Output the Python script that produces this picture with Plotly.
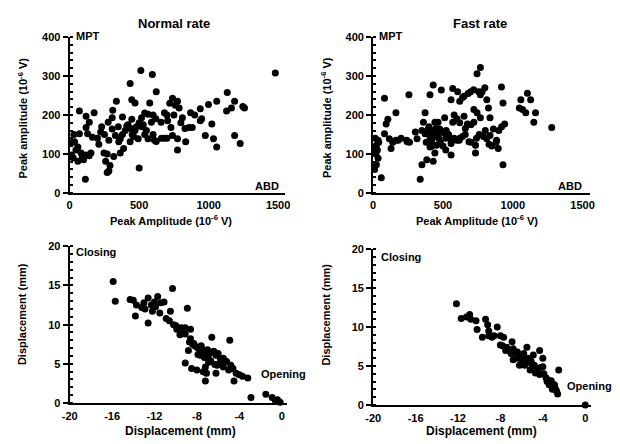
import plotly.graph_objects as go

# ---------------- data ----------------
normal_amp_abd = [1480, 512, 595, 623, 435, 336, 447, 470, 70, 176, 118, 310, 306, 277, 141, 118, 223, 129, 164, 70,
                  35, 59, 82, 118, 153, 59, 12, 113, 282, 270, 247, 259, 317, 353, 388, 364, 329, 282, 306, 364,
                  500, 411, 447, 470, 435, 493, 517, 564, 576, 588, 552, 564, 623, 658, 682, 740, 776, 788, 705, 729,
                  740, 776, 776, 835, 811, 858, 882, 870, 940, 940, 999, 976, 1023, 1035, 1058, 1058, 1129, 1164, 1187, 1134,
                  1187, 1227, 1246, 1258, 200, 210, 230, 250, 380, 400, 420, 450, 480, 530, 540, 600, 620, 660, 700, 720,
                  760, 800, 830, 900, 950, 20, 30, 45, 90, 100, 140, 25, 270, 290, 350, 380, 440, 460, 500, 520,
                  540, 600, 610, 680, 700, 750]
normal_amp_mpt = [308, 314, 304, 260, 281, 235, 239, 231, 210, 206, 197, 212, 193, 181, 181, 168, 156, 152, 143, 152,
                  131, 118, 102, 97, 102, 81, 97, 35, 56, 52, 102, 81, 93, 131, 114, 139, 147, 135, 164, 102,
                  64, 172, 189, 160, 131, 139, 193, 202, 231, 181, 160, 139, 132, 181, 206, 243, 235, 218, 185, 168,
                  147, 139, 110, 131, 193, 168, 168, 206, 216, 185, 227, 147, 177, 139, 118, 235, 210, 218, 235, 258,
                  147, 127, 222, 218, 140, 125, 170, 150, 150, 160, 175, 150, 170, 175, 150, 200, 190, 140, 200, 230,
                  225, 180, 165, 200, 190, 130, 150, 110, 90, 85, 95, 90, 100, 70, 170, 195, 165, 145, 180, 170,
                  205, 150, 135, 140, 140, 200]

fast_amp_abd = [768, 744, 256, 430, 488, 407, 570, 605, 558, 651, 698, 756, 768, 814, 919, 930, 826, 721, 744, 837,
                768, 651, 570, 675, 721, 803, 861, 942, 884, 896, 837, 814, 930, 733, 733, 686, 616, 558, 558, 523,
                512, 442, 372, 360, 349, 302, 314, 244, 349, 384, 430, 442, 337, 419, 442, 407, 454, 477, 465, 372,
                395, 105, 93, 81, 163, 163, 116, 128, 81, 35, 23, 35, 58, 23, 12, 1070, 1093, 1105, 1128, 1058,
                1163, 1151, 1279, 1047, 400, 410, 420, 430, 440, 400, 380, 420, 450, 460, 470, 480, 500, 520, 540, 560,
                580, 600, 620, 640, 660, 700, 740, 760, 790, 830, 850, 880, 900, 920, 620, 640, 680, 720, 780, 800,
                240, 260, 200, 180, 140, 40, 30, 20, 15, 10, 600, 580, 620, 660, 700, 500, 520]
fast_amp_mpt = [322, 306, 252, 277, 264, 252, 268, 260, 239, 248, 260, 260, 252, 239, 272, 231, 218, 214, 206, 193,
                193, 197, 181, 177, 181, 160, 164, 177, 135, 114, 147, 139, 72, 102, 122, 131, 135, 127, 97, 160,
                193, 181, 206, 181, 160, 156, 139, 131, 72, 85, 81, 102, 35, 131, 147, 118, 122, 164, 181, 152,
                164, 189, 177, 152, 206, 135, 139, 114, 243, 135, 122, 89, 39, 72, 114, 214, 206, 256, 239, 239,
                206, 181, 168, 218, 150, 140, 160, 155, 145, 170, 130, 120, 165, 150, 140, 130, 155, 140, 150, 135,
                140, 135, 140, 145, 150, 130, 140, 150, 145, 125, 120, 130, 160, 170, 235, 245, 255, 265, 260, 270,
                135, 130, 140, 135, 130, 130, 110, 100, 140, 60, 190, 200, 180, 165, 175, 120, 110]

normal_disp_open = [-15.9, -15.7, -14.3, -14.0, -13.7, -13.2, -13.8, -12.6, -12.3, -11.7, -11.4, -11.1, -12.2, -11.5, -12.6, -10.3,
                    -10.5, -10.6, -10.2, -9.9, -9.5, -9.1, -8.9, -8.6, -9.1, -8.6, -8.3, -8.8, -8.0, -7.5, -7.4, -6.9,
                    -6.6, -6.5, -6.2, -5.8, -5.5, -6.8, -6.3, -7.2, -7.4, -8.0, -9.1, -8.5, -7.2, -7.1, -6.2, -5.5,
                    -4.9, -4.6, -4.3, -4.0, -3.7, -3.2, -4.5, -2.9, -1.5, -0.9, -0.6, -0.15, -13.0, -12.9, -12.0, -11.9,
                    -10.9, -10.0, -9.6, -9.3, -8.7, -8.2, -7.8, -7.7, -7.0, -6.7, -6.4, -6.0, -5.9, -5.2, -7.6, -7.3,
                    -6.9, -6.1, -5.6, -8.4, -7.9, -5.0, -4.8, -0.4]
normal_disp_close = [15.5, 13.0, 13.2, 13.1, 12.5, 12.2, 11.1, 13.4, 12.5, 13.6, 12.8, 12.9, 11.7, 11.5, 10.2, 14.6,
                     11.7, 10.5, 10.0, 9.4, 9.6, 9.6, 12.1, 9.4, 8.8, 8.2, 7.6, 6.7, 7.1, 6.9, 6.5, 6.1,
                     8.4, 6.5, 6.1, 5.7, 5.7, 5.3, 4.9, 4.6, 4.0, 4.2, 5.1, 4.4, 2.8, 3.8, 3.8, 4.6,
                     8.0, 4.4, 3.8, 3.6, 3.4, 3.2, 2.8, 0.7, 1.1, 0.7, 0.3, 0.1, 12.8, 12.0, 12.9, 12.3,
                     10.8, 9.9, 8.7, 9.2, 7.8, 7.3, 6.9, 6.1, 6.8, 5.4, 6.6, 6.3, 5.0, 5.3, 7.3, 5.8,
                     5.2, 4.8, 4.9, 7.5, 6.2, 4.2, 4.8, 0.4]

fast_disp_open = [-12.15, -11.7, -11.2, -10.9, -10.8, -10.3, -10.2, -9.4, -9.2, -9.1, -8.3, -9.7, -9.1, -8.6, -8.0, -7.7,
                  -8.0, -7.4, -7.2, -6.9, -6.8, -6.6, -6.2, -5.8, -5.5, -5.4, -5.1, -4.9, -4.3, -4.0, -4.0, -4.6,
                  -4.3, -3.7, -3.2, -2.9, -2.8, -2.5, -2.6, -3.1, -3.4, -3.6, 0.0, -6.2, -6.8, -5.7, -5.2, -4.8,
                  -7.5, -7.0, -6.5, -6.0, -5.6, -5.0, -4.5, -3.9, -3.5, -3.0, -2.7, -7.8, -6.4, -5.9, -5.3, -4.2,
                  -3.3, -2.9, -8.8, -6.1, -4.7]
fast_disp_close = [13.0, 11.1, 11.3, 11.6, 11.0, 10.8, 9.7, 11.0, 10.3, 9.5, 10.0, 8.7, 8.9, 8.9, 8.9, 8.7,
                   7.7, 7.4, 7.0, 8.1, 7.2, 6.8, 6.2, 6.6, 7.4, 6.0, 5.6, 6.4, 7.0, 6.0, 4.9, 4.3,
                   3.9, 3.5, 3.1, 2.6, 2.0, 4.5, 1.4, 2.0, 2.6, 3.0, 0.0, 5.1, 5.8, 5.1, 4.5, 5.1,
                   7.0, 6.6, 6.0, 5.5, 5.4, 5.0, 4.6, 4.0, 3.2, 2.4, 1.8, 7.6, 6.8, 6.2, 5.8, 4.8,
                   2.8, 2.2, 8.7, 5.2, 4.1]

amp_xticks = [0, 500, 1000, 1500]
amp_yticks = [0, 100, 200, 300, 400]
disp_xticks = [-20, -16, -12, -8, -4, 0]
disp_xticklabels = ["-20", "-16", "-12", "-8", "-4", "0"]
disp_yticks = [0, 5, 10, 15, 20]

# ---------------- figure ----------------
W, H = 620, 444
FONT = "Liberation Sans, Arial, sans-serif"


def fx(x):
    return x / W


def fy(y):
    return 1 - y / H


marker = dict(color="black", size=7, line=dict(width=0))
fig = go.Figure()
fig.add_trace(go.Scatter(x=normal_amp_abd, y=normal_amp_mpt, mode="markers", marker=marker,
                         xaxis="x", yaxis="y", cliponaxis=False))
fig.add_trace(go.Scatter(x=fast_amp_abd, y=fast_amp_mpt, mode="markers", marker=marker,
                         xaxis="x2", yaxis="y2", cliponaxis=False))
fig.add_trace(go.Scatter(x=normal_disp_open, y=normal_disp_close, mode="markers", marker=marker,
                         xaxis="x3", yaxis="y3", cliponaxis=False))
fig.add_trace(go.Scatter(x=fast_disp_open, y=fast_disp_close, mode="markers", marker=marker,
                         xaxis="x4", yaxis="y4", cliponaxis=False))

tickfont = dict(family=FONT, size=11, color="black", weight="bold")


def xax(dom, rng, vals, texts, anchor, tl):
    return dict(domain=dom, range=rng, tickvals=vals, ticktext=texts, anchor=anchor,
                showgrid=False, zeroline=False, showline=True, linewidth=2, linecolor="black",
                ticks="outside", ticklen=tl, tickcolor="rgba(0,0,0,0)", tickfont=tickfont)


def yax(dom, rng, vals, minor_dt, anchor):
    return dict(domain=dom, range=rng, tickvals=vals, anchor=anchor,
                showgrid=False, zeroline=False, showline=True, linewidth=2, linecolor="black",
                ticks="outside", ticklen=5, tickwidth=2, tickcolor="black", tickfont=tickfont,
                minor=dict(dtick=minor_dt, ticks="inside", ticklen=3, tickwidth=2, tickcolor="black",
                           showgrid=False))


fig.update_layout(
    width=W, height=H, margin=dict(l=0, r=0, t=0, b=0),
    paper_bgcolor="white", plot_bgcolor="white", showlegend=False,
    xaxis=xax([fx(63), fx(283)], [0, 1550], amp_xticks, [str(v) for v in amp_xticks], "y", 1),
    yaxis=yax([fy(192), fy(32)], [0, 400], amp_yticks, 20, "x"),
    xaxis2=xax([fx(373), fx(594)], [0, 1550], amp_xticks, [str(v) for v in amp_xticks], "y2", 1),
    yaxis2=yax([fy(192), fy(32)], [0, 400], amp_yticks, 20, "x2"),
    xaxis3=xax([fx(63), fx(285)], [-20, 0.5], disp_xticks, disp_xticklabels, "y3", 2),
    yaxis3=yax([fy(408), fy(247)], [0, 20], disp_yticks, 1, "x3"),
    xaxis4=xax([fx(373), fx(595)], [-20, 0.5], disp_xticks, disp_xticklabels, "y4", 2),
    yaxis4=yax([fy(410), fy(250)], [0, 20], disp_yticks, 1, "x4"),
)


def note(text, x, y, size=11, xanchor="center", yanchor="middle", angle=0):
    fig.add_annotation(text=text, x=fx(x), y=fy(y), xref="paper", yref="paper",
                       xanchor=xanchor, yanchor=yanchor, showarrow=False, textangle=angle,
                       font=dict(family=FONT, size=size, color="black", weight="bold"))


note("Normal rate", 170, 18, size=13)
note("Fast rate", 482, 18, size=13)
note("MPT", 67, 31, xanchor="left")
note("ABD", 279, 185, xanchor="right")
note("MPT", 377, 31, xanchor="left")
note("ABD", 588, 185, xanchor="right")
note("Peak Amplitude (10<sup>-6</sup> V)", 166, 220, size=11)
note("Peak Amplitude (10<sup>-6</sup> V)", 479, 220, size=11)
note("Peak amplitude (10<sup>-6</sup> V)", 15, 115, size=11, angle=-90)
note("Peak amplitude (10<sup>-6</sup> V)", 325, 115, size=11, angle=-90)
note("Closing", 67, 253, xanchor="left")
note("Opening", 256, 378, xanchor="left")
note("Closing", 379, 258, xanchor="left")
note("Opening", 569, 391, xanchor="left")
note("Displacement (mm)", 176, 437, size=12)
note("Displacement (mm)", 484, 437, size=12)
note("Displacement (mm)", 15, 317, size=11, angle=-90)
note("Displacement (mm)", 325, 317, size=11, angle=-90)

fig.write_html("out.html", config={"displayModeBar": False},
               post_script="document.body.style.margin='0';document.body.style.overflow='hidden';")
